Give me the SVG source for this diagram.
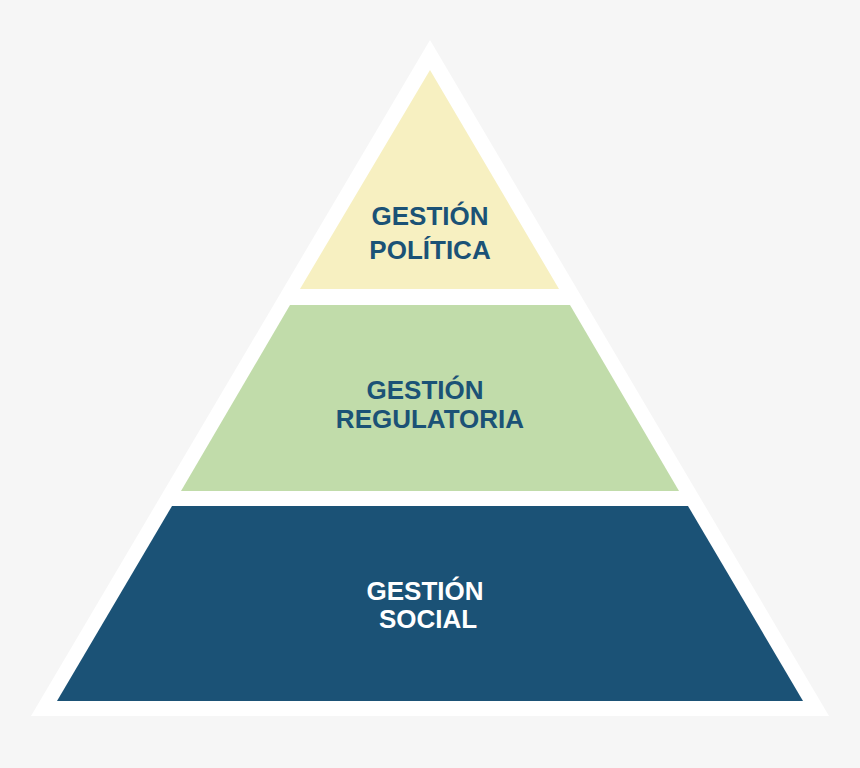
<svg xmlns="http://www.w3.org/2000/svg" width="860" height="768" viewBox="0 0 860 768">
<style>
.lbl{font-family:"Liberation Sans",Arial,sans-serif;font-weight:bold;font-size:26px;text-anchor:middle}
.dark{fill:#1b5276}
.light{fill:#ffffff}
</style>
<rect width="860" height="768" fill="#f6f6f6"/>
<polygon points="430,40 829,716 31,716" fill="#ffffff"/>
<g id="politica">
<polygon points="430,70 559,289 300,289" fill="#f7f0c1"/>
<text class="lbl dark" x="430" y="225">GESTIÓN</text>
<text class="lbl dark" x="430" y="259">POLÍTICA</text>
</g>
<g id="regulatoria">
<polygon points="290,305 570,305 679,491 181,491" fill="#c1dcaa"/>
<text class="lbl dark" x="425" y="399">GESTIÓN</text>
<text class="lbl dark" x="430" y="428">REGULATORIA</text>
</g>
<g id="social">
<polygon points="172,506 688,506 803,701 57,701" fill="#1b5276"/>
<text class="lbl light" x="425" y="600">GESTIÓN</text>
<text class="lbl light" x="428" y="628">SOCIAL</text>
</g>
<g id="connectors"/>
</svg>
